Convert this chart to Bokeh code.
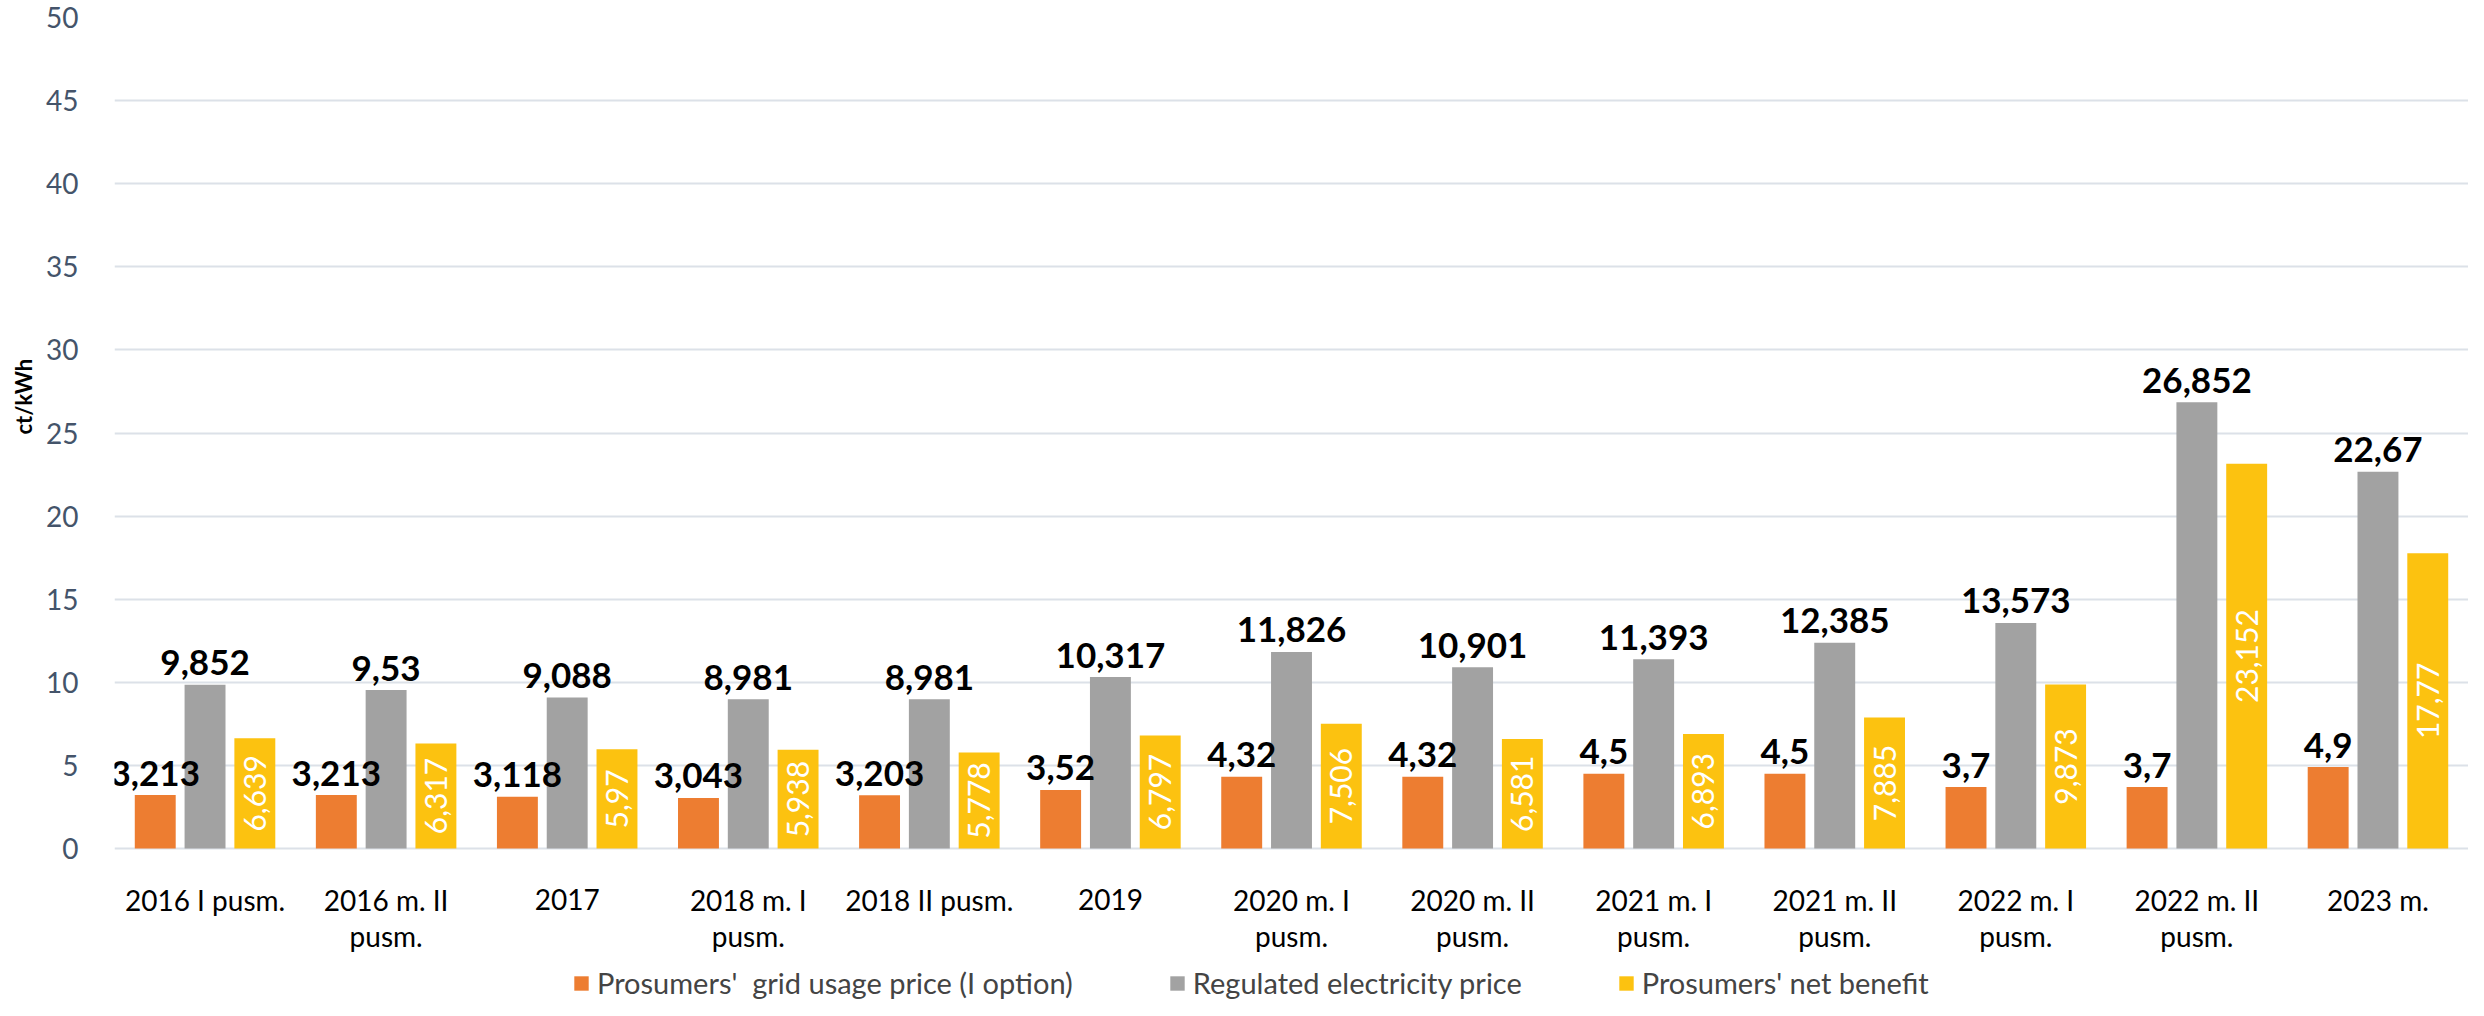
import math
from bokeh.plotting import figure
from bokeh.models import ColumnDataSource, FactorRange, Range1d, Legend, LegendItem, Title
from bokeh.transform import dodge
from bokeh.core.properties import value
from bokeh.embed import file_html
from bokeh.resources import INLINE

categories = ["2016 I pusm.", "2016 m. II\npusm.", "2017", "2018 m. I\npusm.", "2018 II pusm.",
              "2019", "2020 m. I\npusm.", "2020 m. II\npusm.", "2021 m. I\npusm.",
              "2021 m. II\npusm.", "2022 m. I\npusm.", "2022 m. II\npusm.", "2023 m."]
grid_price = [3.213, 3.213, 3.118, 3.043, 3.203, 3.52, 4.32, 4.32, 4.5, 4.5, 3.7, 3.7, 4.9]
regulated_price = [9.852, 9.53, 9.088, 8.981, 8.981, 10.317, 11.826, 10.901, 11.393, 12.385, 13.573, 26.852, 22.67]
net_benefit = [6.639, 6.317, 5.97, 5.938, 5.778, 6.797, 7.506, 6.581, 6.893, 7.885, 9.873, 23.152, 17.77]
series_names = ["Prosumers'  grid usage price (I option)", "Regulated electricity price", "Prosumers' net benefit"]
y_ticks = [0, 5, 10, 15, 20, 25, 30, 35, 40, 45, 50]
y_max = 50

def fmt(v):
    return ("%g" % v).replace(".", ",")

# layout (pixels inside the figure)
FIG_W, FIG_H = 2468, 1000
FRAME_TOP, ZERO_Y = 17, 848
px_per_unit = (ZERO_Y - FRAME_TOP) / y_max
y_bottom = -(FIG_H - ZERO_Y) / px_per_unit

line1 = [c.split("\n")[0] for c in categories]
line2 = [c.split("\n")[1] if "\n" in c else "" for c in categories]

src = ColumnDataSource(dict(
    cat=categories,
    zero=[0] * len(categories),
    line1=line1, line2=line2,
    grid=grid_price, reg=regulated_price, ben=net_benefit,
    ben_mid=[v / 2 for v in net_benefit],
    grid_lbl=[fmt(v) for v in grid_price],
    reg_lbl=[fmt(v) for v in regulated_price],
    ben_lbl=[fmt(v) for v in net_benefit],
))

FONT = "Lato"
p = figure(width=FIG_W, height=FIG_H, x_range=FactorRange(*categories, range_padding=0),
           y_range=Range1d(y_bottom, y_max), output_backend="svg", toolbar_location=None,
           min_border_left=112, min_border_right=0, min_border_top=FRAME_TOP, min_border_bottom=0)
p.outline_line_color = None
p.background_fill_color = "white"
p.border_fill_color = "white"

p.xaxis.visible = False
p.xgrid.grid_line_color = None
p.ygrid.grid_line_color = "#DCE1E8"
p.ygrid.grid_line_width = 2
p.yaxis.ticker = y_ticks
p.yaxis.axis_line_color = None
p.yaxis.major_tick_line_color = None
p.yaxis.minor_tick_line_color = None
p.yaxis.major_label_text_font = FONT
p.yaxis.major_label_text_font_size = "28px"
p.yaxis.major_label_text_color = "#44546A"
p.yaxis.major_label_standoff = 30

ytitle = Title(text="ct/kWh", align="left", offset=566, standoff=14,
               text_font=FONT, text_font_size="22px", text_font_style="bold", text_color="black")
p.add_layout(ytitle, "left")

off = 0.275
bw = 0.226
r1 = p.vbar(x=dodge("cat", -off, range=p.x_range), top="grid", width=bw, source=src,
            fill_color="#ED7D31", line_color=None)
r2 = p.vbar(x=dodge("cat", 0, range=p.x_range), top="reg", width=bw, source=src,
            fill_color="#A2A2A2", line_color=None)
r3 = p.vbar(x=dodge("cat", off, range=p.x_range), top="ben", width=bw, source=src,
            fill_color="#FCC210", line_color=None)

p.text(x=dodge("cat", -off, range=p.x_range), y="grid", text="grid_lbl", source=src,
       y_offset=-22, text_align="center", text_baseline="alphabetic",
       text_font=value(FONT), text_font_style="bold", text_font_size="35px", text_color="black")
p.text(x=dodge("cat", 0, range=p.x_range), y="reg", text="reg_lbl", source=src,
       y_offset=-22, text_align="center", text_baseline="alphabetic",
       text_font=value(FONT), text_font_style="bold", text_font_size="35px", text_color="black")
p.text(x=dodge("cat", off, range=p.x_range), y="ben_mid", text="ben_lbl", source=src,
       angle=math.pi / 2, text_align="center", text_baseline="middle",
       text_font=value(FONT), text_font_size="30px", text_color="white")

# category labels under the zero line
p.text(x="cat", y="zero", text="line1", source=src, y_offset=51,
       text_align="center", text_baseline="alphabetic",
       text_font=value(FONT), text_font_size="28px", text_color="black")
p.text(x="cat", y="zero", text="line2", source=src, y_offset=87,
       text_align="center", text_baseline="alphabetic",
       text_font=value(FONT), text_font_size="28px", text_color="black")

legend = Legend(items=[LegendItem(label=series_names[0], renderers=[r1]),
                       LegendItem(label=series_names[1], renderers=[r2]),
                       LegendItem(label=series_names[2], renderers=[r3])],
                orientation="horizontal", location=(458, 0),
                padding=0, margin=0, spacing=95, label_standoff=7,
                glyph_width=18, glyph_height=18, label_height=18,
                label_text_font=FONT, label_text_font_size="29px",
                label_text_baseline="middle",
                border_line_color=None, background_fill_alpha=0)
p.add_layout(legend, "center")

open("out.html", "w").write(file_html(p, INLINE))
